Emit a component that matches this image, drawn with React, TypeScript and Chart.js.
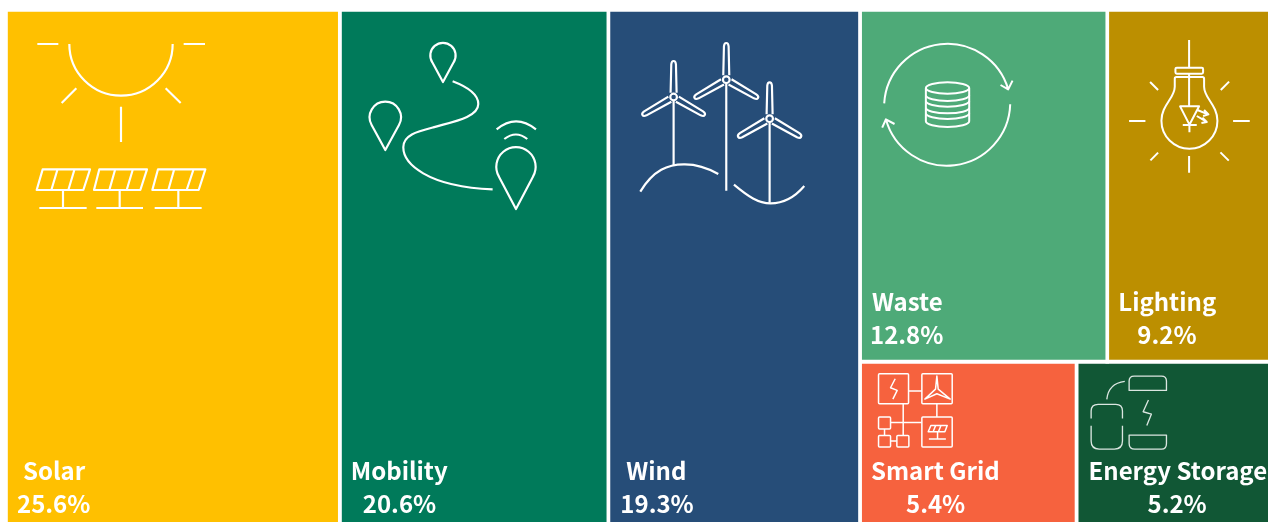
import React, { useEffect, useRef } from "react";
import { Chart, registerables } from "chart.js";

Chart.register(...registerables);

const categories = ["Solar", "Mobility", "Wind", "Waste", "Lighting", "Smart Grid", "Energy Storage"];
const shares = [25.6, 20.6, 19.3, 12.8, 9.2, 5.4, 5.2];
const colors = ["#FFC000", "#007A5A", "#264D78", "#4EAA78", "#BC8F00", "#F6623E", "#115735"];

// Slice-and-dice arrangement: columns of rows of category indices.
const columns = [[[0]], [[1]], [[2]], [[3, 4], [5, 6]]];

// Left inset of the name and value captions inside each tile.
const nameInset = [17, 11, 18, 12, 11, 11, 12];
const valueInset = [11, 23, 12, 10, 30, 46, 71];

const sum = (list: number[]) => list.reduce((a, b) => a + b, 0);
const total = sum(shares);

type Tile = { index: number; x0: number; x1: number; y0: number; y1: number };

function layoutTiles(): Tile[] {
  const tiles: Tile[] = [];
  let x = 0;
  for (const rows of columns) {
    const colTotal = sum(rows.flat().map((i) => shares[i]));
    let y = 0;
    for (const row of rows) {
      const rowTotal = sum(row.map((i) => shares[i]));
      const rowH = rowTotal / colTotal;
      let cx = x;
      for (const i of row) {
        const w = (shares[i] / rowTotal) * colTotal;
        tiles.push({ index: i, x0: cx, x1: cx + w, y0: y, y1: y + rowH });
        cx += w;
      }
      y += rowH;
    }
    x += colTotal;
  }
  return tiles.sort((a, b) => a.index - b.index);
}

const tiles = layoutTiles();

// Line icons are authored on a 3x grid, then stroked in white.
type Icon = { dx: number; dy: number; width: number; alpha?: number; paths: string[]; extra?: (c: CanvasRenderingContext2D) => void };

function turbine(c: CanvasRenderingContext2D, hx: number, hy: number, len: number) {
  c.beginPath();
  c.arc(hx, hy, 10, 0, Math.PI * 2);
  c.stroke();
  for (const deg of [0, 120, -120]) {
    c.save();
    c.translate(hx, hy);
    c.rotate((deg * Math.PI) / 180);
    c.beginPath();
    c.moveTo(-9, -13);
    c.lineTo(-7, -len + 10);
    c.quadraticCurveTo(-6, -len, 0, -len);
    c.quadraticCurveTo(6, -len, 7, -len + 10);
    c.lineTo(9, -13);
    c.stroke();
    c.restore();
  }
}

const icons: Icon[] = [
  {
    dx: 14, dy: 10, width: 6.5,
    paths: [
      "M52 72H115M491 72H555M148 72A155 155 0 0 0 458 72M169 205L125 249M437 205L482 249M303 260V366",
      "M68 448H210L190 510H50ZM112 450L94 510M163 450L145 510M129 512V564M58 564H200",
      "M238 448H381L361 510H222ZM285 450L268 510M338 450L320 510M299 512V564M229 564H369",
      "M414 448H556L536 510H397ZM462 450L445 510M520 450L500 510M475 512V564M404 564H545",
    ],
  },
  {
    dx: 10.2, dy: 20, width: 6.5,
    paths: [
      "M279 156L247 97A38 38 0 1 1 311 97Z",
      "M106 360L65 285A47 47 0 1 1 147 285Z",
      "M498 537L447 440A59 59 0 1 1 549 440Z",
      "M308 154C350 170 385 190 385 222C385 262 310 275 250 292C200 305 160 315 160 352C160 400 230 470 428 478",
      "M440 298Q498 250 558 298M463 327Q498 300 532 327",
    ],
  },
  {
    dx: 16.6, dy: 20, width: 6.5,
    paths: [
      "M146 212V405M304 160V482M434 277V518",
      "M46 485C85 420 130 402 180 403C215 403 250 415 280 432",
      "M327 464C370 500 400 520 437 520C480 520 515 495 538 468",
    ],
    extra: (c) => {
      turbine(c, 146, 201, 108);
      turbine(c, 304, 149, 110);
      turbine(c, 434, 266, 109);
    },
  },
  {
    dx: 9.9, dy: 50, width: 6,
    paths: [
      "M43 130A190 190 0 0 1 415 88M392 75L415 88L428 62",
      "M421 133A190 190 0 0 1 48 178M37 203L48 178L74 192",
      "M168 84A65 17 0 0 1 298 84A65 17 0 0 1 168 84V184A65 17 0 0 0 298 184V84",
      "M168 106A65 17 0 0 0 298 106M168 123A65 17 0 0 0 298 123M168 143A65 17 0 0 0 298 143M168 160A65 17 0 0 0 298 160",
    ],
  },
  {
    dx: 12.5, dy: 20, width: 6,
    paths: [
      "M208 30V113M208 131V229M171 113H246Q250 113 250 117V127Q250 131 246 131H171Q167 131 167 127V117Q167 113 171 113Z",
      "M165 146Q165 141 170 141H248Q253 141 253 146V170C253 205 293 225 293 272A84 84 0 0 1 125 272C125 225 165 205 165 170Z",
      "M181 229H238L209 284ZM189 285H231M209 285V307",
      "M233 240L265 253M253 240L266 253L250 258M231 258L260 275M248 263L261 276L245 279",
      "M28 273H77M340 273H390M208 378V428M91 156L115 180M328 155L303 180M115 368L92 391M302 367L327 392",
    ],
  },
  {
    dx: 4.9, dy: 3.5, width: 4.5,
    paths: [
      "M44 26H128Q131 26 131 29V113Q131 116 128 116H44Q41 116 41 113V29Q41 26 44 26Z",
      "M174 26H259Q262 26 262 29V113Q262 116 259 116H174Q171 116 171 113V29Q171 26 174 26Z",
      "M174 156H259Q262 156 262 159V243Q262 246 259 246H174Q171 246 171 243V159Q171 156 174 156Z",
      "M91 41L77 68L97 76L84 102M131 78H171M216 116V156",
      "M216 33L220 72L256 102L216 86L180 102L212 72ZM198 181H247L240 200H190ZM212 182L205 199M228 182L221 199M218 200V222M192 222H243",
      "M44 156H74Q77 156 77 159V189Q77 192 74 192H44Q41 192 41 189V159Q41 156 44 156Z",
      "M44 211H74Q77 211 77 214V243Q77 246 74 246H44Q41 246 41 243V214Q41 211 44 211Z",
      "M99 211H129Q132 211 132 214V243Q132 246 129 246H99Q96 246 96 243V214Q96 211 99 211Z",
      "M77 172H171M115 116V211M59 192V211M77 228H96",
    ],
  },
  {
    dx: 3.3, dy: 3.5, width: 4, alpha: 0.85,
    paths: [
      "M148 76V48Q148 33 163 33H245Q260 33 260 48V76Z",
      "M148 210V235Q148 252 165 252H245Q260 252 260 235V210Z",
      "M34 160V138Q34 118 55 118H108Q128 118 128 138V160M34 182V228Q34 252 58 252H104Q128 252 128 228V182",
      "M81 103Q86 55 135 49M206 105L190 140L215 147L201 181",
    ],
  },
];

const tileDecorations = {
  id: "tileDecorations",
  afterDatasetsDraw(chart: Chart) {
    const { ctx, scales } = chart;
    const xs = scales.x;
    const ys = scales.y;
    tiles.forEach((t) => {
      const left = xs.getPixelForValue(t.x0);
      const top = ys.getPixelForValue(t.y0);
      const bottom = ys.getPixelForValue(t.y1);
      const icon = icons[t.index];

      ctx.save();
      ctx.translate(left + icon.dx, top + icon.dy);
      ctx.scale(1 / 3, 1 / 3);
      ctx.strokeStyle = "#fff";
      ctx.globalAlpha = icon.alpha ?? 1;
      ctx.lineWidth = icon.width;
      ctx.lineJoin = "round";
      for (const d of icon.paths) ctx.stroke(new Path2D(d));
      if (icon.extra) icon.extra(ctx);
      ctx.restore();

      ctx.save();
      ctx.fillStyle = "#fff";
      ctx.textBaseline = "alphabetic";
      ctx.textAlign = "left";
      ctx.font = '700 24px "Noto Sans CJK SC"';
      ctx.fillText(categories[t.index], left + nameInset[t.index], bottom - 51);
      ctx.fillText(shares[t.index].toFixed(1) + "%", left + valueInset[t.index], bottom - 18);
      ctx.restore();
    });
  },
};

export default function App() {
  const ref = useRef<HTMLCanvasElement>(null);
  useEffect(() => {
    if (!ref.current) return;
    const chart = new Chart(ref.current, {
      type: "scatter",
      data: {
        datasets: tiles.map((t) => ({
          label: categories[t.index],
          data: [
            { x: t.x0, y: t.y0 },
            { x: t.x1, y: t.y0 },
            { x: t.x1, y: t.y1 },
            { x: t.x0, y: t.y1 },
            { x: t.x0, y: t.y0 },
          ],
          showLine: true,
          fill: "shape",
          backgroundColor: colors[t.index],
          borderColor: "#fff",
          borderWidth: 3.6,
          tension: 0,
          pointRadius: 0,
          pointHoverRadius: 0,
          clip: false,
        })),
      },
      options: {
        responsive: false,
        animation: false,
        layout: { padding: { left: 6, top: 10, right: 15, bottom: 9 } },
        scales: {
          x: { type: "linear", display: false, min: 0, max: total },
          y: { type: "linear", display: false, min: 0, max: 1, reverse: true },
        },
        plugins: { legend: { display: false }, tooltip: { enabled: false } },
      },
      plugins: [tileDecorations],
    } as any);
    return () => chart.destroy();
  }, []);
  return (
    <div style={{ position: "fixed", left: 0, top: 0, width: 1268, height: 522, overflow: "hidden", background: "#fff" }}>
      <canvas ref={ref} width={1300} height={540} style={{ display: "block" }} />
    </div>
  );
}
